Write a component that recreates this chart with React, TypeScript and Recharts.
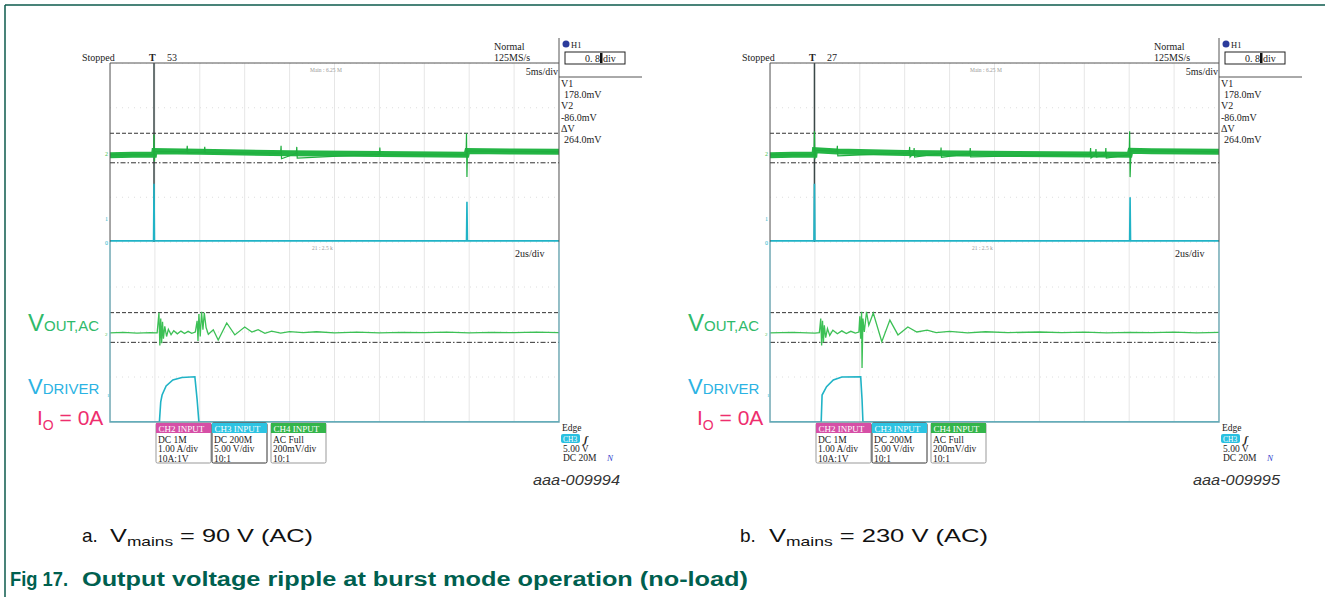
import React from "react";
import { LineChart, Line, XAxis, YAxis, CartesianGrid, ReferenceLine } from "recharts";

type Pt = [number, number];

// graticule divisions
const X_DIVS = [0, 1, 2, 3, 4, 5, 6, 7, 8, 9, 10];
const Y_DIVS = [0, 1, 2, 3, 4, 5, 6, 7, 8];

// cursor levels in divisions (V1 = 178 mV, V2 = -86 mV)
const CURSOR_HIGH = 4.86;
const CURSOR_LOW = 3.54;

// a. 90 V mains — zoom window, 5 ms/div (band level + thin glitches)
const A_ZOOM_BAND: Pt[] = [
  [0, 3.88], [0.5, 3.9], [0.98, 3.9], [0.99, 4.06], [2.0, 4.03], [4.0, 3.97], [6.0, 3.93],
  [7.94, 3.9], [7.96, 4.07], [9.0, 4.04], [10, 4.03],
];
const A_ZOOM_SPIKES: Pt[] = [
  [0, 3.9], [0.97, 3.9], [0.98, 4.8], [0.99, 3.6], [1.0, 4.05], [1.71, 4.03], [1.72, 4.3],
  [1.73, 3.98], [2.1, 4.02], [2.11, 4.25], [2.12, 3.99], [3.8, 3.97], [3.81, 4.3], [3.82, 3.72],
  [4.15, 3.96], [4.16, 4.25], [4.17, 3.75], [6.0, 3.93], [6.01, 4.22], [6.02, 3.9], [7.93, 3.9],
  [7.94, 4.85], [7.95, 2.9], [7.96, 4.07], [10, 4.03],
];
const A_ZOOM_CYAN: Pt[] = [
  [0, 0.05], [0.97, 0.05], [0.98, 2.6], [0.99, 0.05], [7.94, 0.05], [7.95, 1.8], [7.96, 0.05], [10, 0.05],
];
// a. main window, 2 us/div
const A_MAIN_GREEN: Pt[] = [
  [0, 3.96], [0.3, 3.98], [0.6, 3.95], [0.9, 3.97], [1.05, 3.96], [1.09, 4.85], [1.11, 3.4],
  [1.13, 4.6], [1.15, 3.5], [1.17, 4.45], [1.19, 3.7], [1.22, 4.25], [1.26, 3.8], [1.3, 4.12],
  [1.36, 3.88], [1.42, 4.06], [1.5, 3.92], [1.58, 4.04], [1.66, 3.93], [1.74, 4.03], [1.82, 3.94],
  [1.9, 4.0], [1.94, 4.5], [1.96, 3.6], [1.98, 4.8], [2.01, 3.8], [2.04, 4.9], [2.07, 4.1],
  [2.1, 4.85], [2.14, 4.2], [2.19, 3.9], [2.3, 4.1], [2.41, 3.64], [2.6, 4.4], [2.78, 3.87],
  [3.0, 4.22], [3.16, 4.0], [3.3, 4.1], [3.45, 3.94], [3.6, 4.04], [3.8, 3.95], [4.0, 4.02],
  [4.3, 3.97], [4.6, 4.01], [5.0, 3.96], [5.5, 3.99], [6.0, 3.96], [6.5, 3.98], [7.0, 3.97],
  [7.5, 3.99], [8.0, 3.96], [8.5, 3.98], [9.0, 3.97], [9.5, 3.99], [10, 3.97],
];
const A_MAIN_CYAN: Pt[] = [
  [0, 0], [1.1, 0], [1.13, 0.9], [1.16, 1.2], [1.25, 1.6], [1.4, 1.87], [1.6, 1.98],
  [1.89, 2.01], [1.94, 1.0], [1.98, 0], [10, 0],
];

// b. 230 V mains — zoom window, 5 ms/div
const B_ZOOM_BAND: Pt[] = [
  [0, 3.88], [0.5, 3.9], [0.99, 3.9], [1.0, 4.1], [1.5, 4.05], [3.0, 3.98], [5.5, 3.93],
  [8.01, 3.9], [8.03, 4.08], [8.5, 4.06], [10, 4.03],
];
const B_ZOOM_SPIKES: Pt[] = [
  [0, 3.9], [0.98, 3.9], [0.99, 4.95], [1.0, 3.7], [1.02, 4.1], [1.49, 4.05], [1.5, 4.3],
  [1.51, 3.85], [3.1, 3.98], [3.11, 4.25], [3.12, 3.8], [3.2, 3.97], [3.21, 4.2], [3.22, 3.8],
  [3.8, 3.96], [3.81, 4.22], [3.82, 3.78], [4.45, 3.95], [4.46, 4.2], [4.47, 3.8], [7.13, 3.92],
  [7.14, 4.2], [7.15, 3.75], [7.25, 3.92], [7.26, 4.15], [7.27, 3.8], [7.47, 3.9], [7.48, 4.2],
  [7.49, 3.75], [8.0, 3.9], [8.01, 4.95], [8.02, 2.9], [8.04, 4.08], [10, 4.03],
];
const B_ZOOM_CYAN: Pt[] = [
  [0, 0.05], [0.98, 0.05], [0.99, 2.6], [1.0, 0.05], [8.01, 0.05], [8.02, 2.0], [8.03, 0.05], [10, 0.05],
];
// b. main window, 2 us/div
const B_MAIN_GREEN: Pt[] = [
  [0, 3.96], [0.5, 3.98], [1.0, 3.95], [1.1, 3.97], [1.13, 4.6], [1.15, 3.4], [1.17, 4.5],
  [1.19, 3.55], [1.21, 4.3], [1.24, 3.75], [1.28, 4.15], [1.33, 3.85], [1.4, 4.08], [1.5, 3.92],
  [1.6, 4.05], [1.7, 3.93], [1.8, 4.03], [1.9, 3.95], [1.98, 4.0], [2.0, 4.7], [2.02, 3.7],
  [2.04, 4.9], [2.05, 2.4], [2.07, 4.6], [2.1, 4.0], [2.15, 4.9], [2.2, 4.3], [2.3, 4.84],
  [2.49, 3.57], [2.67, 4.53], [2.85, 3.87], [3.07, 4.22], [3.27, 4.0], [3.5, 4.08], [3.7, 3.97],
  [4.0, 4.03], [4.4, 3.96], [4.8, 4.01], [5.3, 3.97], [6.0, 4.0], [6.5, 3.97], [7.0, 3.99],
  [7.5, 3.96], [8.0, 3.98], [8.5, 3.97], [9.0, 3.99], [9.5, 3.96], [10, 3.98],
];
const B_MAIN_CYAN: Pt[] = [
  [0, 0], [1.14, 0], [1.16, 1.2], [1.26, 1.57], [1.41, 1.87], [1.6, 2.0], [2.02, 2.01],
  [2.05, 1.0], [2.07, 0], [10, 0],
];

const CURSOR_TEXT = ["V1", "178.0mV", "V2", "-86.0mV", "ΔV", "264.0mV"];
const CH_TITLES = ["CH2 INPUT", "CH3 INPUT", "CH4 INPUT"];
const CH_LINES = [
  ["DC 1M", "1.00 A/div", "10A:1V"],
  ["DC 200M", "5.00 V/div", "10:1"],
  ["AC Full", "200mV/div", "10:1"],
];
const CH_COLORS = ["#d64fa6", "#2cc3e2", "#33b54a"];
const EDGE_LINES = ["5.00 V", "DC 20M"];

const SCOPE_FONT = "'Liberation Serif', serif";
const SANS = "'Liberation Sans', Arial, sans-serif";

function toRows(pts: Pt[]) {
  return pts.map(([x, y]) => ({ x, y }));
}

function Trace(props: {
  left: number;
  top: number;
  height: number;
  green: Pt[];
  spikes?: Pt[];
  cyan: Pt[];
  greenWidth: number;
  greenColor: string;
  trigger?: number;
}) {
  const { left, top, height, green, spikes, cyan, greenWidth, greenColor, trigger } = props;
  return (
    <div style={{ position: "absolute", left, top }}>
      <LineChart width={449} height={height} margin={{ top: 0, right: 0, bottom: 0, left: 0 }}>
        <XAxis type="number" dataKey="x" domain={[0, 10]} ticks={X_DIVS} hide />
        <YAxis type="number" dataKey="y" domain={[0, 8]} ticks={Y_DIVS} hide />
        <CartesianGrid horizontal={false} stroke="#e6e6e6" />
        <CartesianGrid vertical={false} stroke="#dedede" strokeDasharray="1 5" />
        {trigger !== undefined && <ReferenceLine x={trigger} stroke="#3b4848" strokeWidth={1.5} />}
        <ReferenceLine y={CURSOR_HIGH} stroke="#333" strokeDasharray="4 2" />
        <ReferenceLine y={CURSOR_LOW} stroke="#333" strokeDasharray="5 2 1.5 2" />
        <Line data={toRows(cyan)} dataKey="y" type="linear" stroke="#20b3c6" strokeWidth={1.6} dot={false} isAnimationActive={false} />
        <Line data={toRows(green)} dataKey="y" type="linear" stroke={greenColor} strokeWidth={greenWidth} dot={false} isAnimationActive={false} />
        {spikes && (
          <Line data={toRows(spikes)} dataKey="y" type="linear" stroke="#1fae3e" strokeWidth={1.2} dot={false} isAnimationActive={false} />
        )}
      </LineChart>
    </div>
  );
}

function ScopeText({ ox, count, figId }: { ox: number; count: string; figId: string }) {
  return (
    <g transform={`translate(${ox},0)`} fontFamily={SCOPE_FONT} fill="#222">
      {/* panel frames */}
      <polyline points="110,242 110,63 559,63 559,242" fill="none" stroke="#555" strokeWidth={1} />
      <polyline points="110,242 110,422 559,422 559,242" fill="none" stroke="#6aa6b2" strokeWidth={1.4} />
      <line x1={559} y1={38} x2={559} y2={63} stroke="#555" />
      <line x1={559} y1={77} x2={642} y2={77} stroke="#555" />

      <text x={82} y={60.5} fontSize={10}>Stopped</text>
      <text x={149} y={61} fontSize={10} fontWeight="bold">T</text>
      <text x={167} y={60.5} fontSize={10}>{count}</text>
      <text x={310} y={72} fontSize={5.5} fill="#999">Main : 6.25 M</text>
      <text x={494} y={49.5} fontSize={10}>Normal</text>
      <text x={494} y={60.5} fontSize={10}>125MS/s</text>
      <circle cx={566} cy={44} r={3.5} fill="#2b3b9c" />
      <text x={571} y={47.5} fontSize={8.5}>H1</text>
      <rect x={565} y={52} width={60} height={12} fill="none" stroke="#222" />
      <text x={585} y={61.5} fontSize={10}>0. 8</text>
      <rect x={600} y={53} width={2.5} height={10} fill="#111" />
      <text x={603} y={61.5} fontSize={10}>div</text>
      <text x={558} y={74.5} fontSize={10} textAnchor="end">5ms/div</text>
      {CURSOR_TEXT.map((t, i) => (
        <text key={t} x={i % 2 === 1 && i !== 3 ? 564 : 561} y={87 + i * 11.2} fontSize={10}>{t}</text>
      ))}
      <text x={312} y={250} fontSize={5.5} fill="#999">21 : 2.5 k</text>
      <text x={515} y={256.5} fontSize={10}>2us/div</text>

      {/* channel markers */}
      <text x={105} y={156} fontSize={6} fill="#3cbf4f">2</text>
      <text x={105} y={221} fontSize={6} fill="#25b7cc">1</text>
      <text x={105} y={245} fontSize={6} fill="#25b7cc">0</text>
      <text x={105} y={336} fontSize={5} fill="#3cbf4f">2</text>
      <text x={107} y={397} fontSize={5} fill="#25b7cc">1</text>

      {/* channel boxes */}
      {CH_TITLES.map((t, i) => {
        const x = [156, 212, 271][i];
        return (
          <g key={t}>
            <rect x={x} y={423} width={55} height={40} rx={1.5} fill="#fff" stroke={i === 1 ? "#333" : "#999"} />
            <rect x={x} y={423} width={55} height={10} fill={CH_COLORS[i]} />
            <text x={x + 2.5} y={431.5} fontSize={9} fill="#fff">{t}</text>
            {CH_LINES[i].map((l, j) => (
              <text key={l + j} x={x + 2} y={443 + j * 9.3} fontSize={9.5}>{l}</text>
            ))}
          </g>
        );
      })}

      {/* trigger info */}
      <text x={562} y={431} fontSize={9.5}>Edge</text>
      <rect x={561} y={434} width={19} height={9} rx={2} fill="#29c0e0" />
      <text x={563} y={441.5} fontSize={7.5} fill="#fff">CH3</text>
      <text x={584} y={443} fontSize={11} fontWeight="bold" fontStyle="italic">ʃ</text>
      {EDGE_LINES.map((l, j) => (
        <text key={l} x={563} y={452 + j * 9} fontSize={9.5}>{l}</text>
      ))}
      <text x={607} y={461} fontSize={9} fill="#3344cc" fontStyle="italic">N</text>

      <text x={533} y={485} fontSize={14} fontFamily={SANS} fontStyle="italic" fill="#333" textLength={87} lengthAdjust="spacingAndGlyphs">{figId}</text>

      {/* trace labels */}
      <text x={28} y={331} fontFamily={SANS} fill="#2fba6a">
        <tspan fontSize={24}>V</tspan>
        <tspan fontSize={15}>OUT,AC</tspan>
      </text>
      <text x={28} y={394} fontFamily={SANS} fill="#2bb3e3">
        <tspan fontSize={22}>V</tspan>
        <tspan fontSize={15}>DRIVER</tspan>
      </text>
      <text x={37} y={425} fontFamily={SANS} fill="#ee2e6e">
        <tspan fontSize={21}>I</tspan>
        <tspan fontSize={14} dy={5}>O</tspan>
        <tspan fontSize={21} dy={-5}> = 0A</tspan>
      </text>
    </g>
  );
}

export default function App() {
  return (
    <div style={{ position: "fixed", left: 0, top: 0, width: 1325, height: 597, background: "#fff", overflow: "hidden" }}>
      <Trace left={110} top={63} height={179} green={A_ZOOM_BAND} spikes={A_ZOOM_SPIKES} cyan={A_ZOOM_CYAN} greenWidth={6} greenColor="#24b545" trigger={0.98} />
      <Trace left={110} top={242} height={180} green={A_MAIN_GREEN} cyan={A_MAIN_CYAN} greenWidth={1.3} greenColor="#3cc055" />
      <Trace left={770} top={63} height={179} green={B_ZOOM_BAND} spikes={B_ZOOM_SPIKES} cyan={B_ZOOM_CYAN} greenWidth={6} greenColor="#24b545" trigger={0.99} />
      <Trace left={770} top={242} height={180} green={B_MAIN_GREEN} cyan={B_MAIN_CYAN} greenWidth={1.3} greenColor="#3cc055" />

      <svg width={1325} height={597} style={{ position: "absolute", left: 0, top: 0, pointerEvents: "none" }}>
        <line x1={5} y1={5} x2={1325} y2={5} stroke="#0c5a4c" strokeWidth={1.5} />
        <line x1={5} y1={5} x2={5} y2={597} stroke="#0c5a4c" strokeWidth={1.5} />
        <ScopeText ox={0} count="53" figId="aaa-009994" />
        <ScopeText ox={660} count="27" figId="aaa-009995" />

        <text x={82} y={542} fontFamily={SANS} fontSize={19} fill="#111">a.</text>
        <text x={110} y={542} fontFamily={SANS} fontSize={19} fill="#111" textLength={203} lengthAdjust="spacingAndGlyphs">
          <tspan>V</tspan>
          <tspan fontSize={13} dy={4}>mains</tspan>
          <tspan dy={-4}> = 90 V (AC)</tspan>
        </text>
        <text x={740} y={542} fontFamily={SANS} fontSize={19} fill="#111">b.</text>
        <text x={769} y={542} fontFamily={SANS} fontSize={19} fill="#111" textLength={219} lengthAdjust="spacingAndGlyphs">
          <tspan>V</tspan>
          <tspan fontSize={13} dy={4}>mains</tspan>
          <tspan dy={-4}> = 230 V (AC)</tspan>
        </text>
        <text x={10} y={586} fontFamily={SANS} fontSize={20} fontWeight="bold" fill="#00604f" textLength={58} lengthAdjust="spacingAndGlyphs">Fig 17.</text>
        <text x={82} y={586} fontFamily={SANS} fontSize={20} fontWeight="bold" fill="#00604f" textLength={666} lengthAdjust="spacingAndGlyphs">
          Output voltage ripple at burst mode operation (no-load)
        </text>
      </svg>
    </div>
  );
}
